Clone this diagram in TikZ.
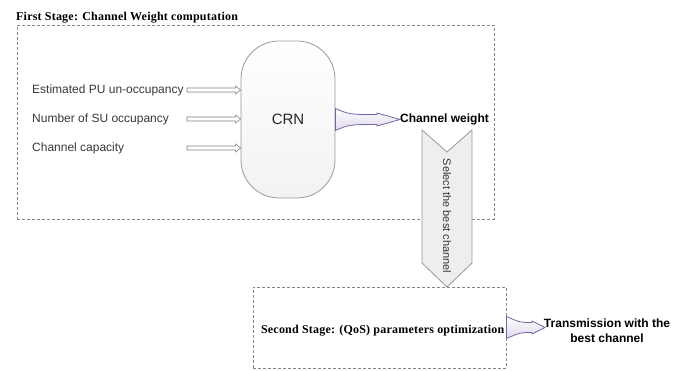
\documentclass[tikz,border=0pt]{standalone}
\usepackage{fontspec}
\setmainfont{Liberation Sans}
\newfontfamily\serifb[LetterSpace=1.8]{Liberation Serif}
\usetikzlibrary{calc}
\definecolor{dashgray}{RGB}{135,135,135}
\definecolor{txt}{RGB}{55,55,55}
\definecolor{purp}{RGB}{120,100,165}
\definecolor{lav}{RGB}{222,216,236}
\definecolor{chev}{RGB}{238,238,238}
\newcommand\fatarrow[3]{%
  \path[fatarr] let \p1=(#1), \p2=(#2), \p3=($(#2)+(-#3,0)$) in
   (\x1,\y1+11pt) .. controls (\x1+14pt,\y1+5pt) .. (\x3,\y1+5pt) -- (\x3,\y1+6.5pt) -- (\x2,\y1)
   -- (\x3,\y1-6.5pt) -- (\x3,\y1-5pt) .. controls (\x1+14pt,\y1-5pt) .. (\x1,\y1-11pt) -- cycle;}
\newcommand\hollowarrow[2]{%
  \path[thinarr] let \p1=(#1), \p2=(#2) in
   (\x1,\y1+2pt) -- (\x2-5pt,\y1+2pt) -- (\x2-5pt,\y1+4pt) -- (\x2,\y1)
   -- (\x2-5pt,\y1-4pt) -- (\x2-5pt,\y1-2pt) -- (\x1,\y1-2pt) -- cycle;}
\begin{document}
\begin{tikzpicture}[x=1pt,y=-1pt,
  stagebox/.style={draw=dashgray, dash pattern=on 3pt off 2pt, line width=0.8pt, inner sep=0pt},
  stagetitle/.style={font=\serifb\bfseries\fontsize{12}{14}\selectfont, inner sep=0pt},
  lbl/.style={font=\fontsize{12}{14}\selectfont, text=txt, inner sep=0pt, anchor=west},
  boldlbl/.style={font=\bfseries\fontsize{12}{15}\selectfont, inner sep=0pt},
  thinarr/.style={draw=gray, fill=white, line width=0.6pt},
  fatarr/.style={draw=purp, top color=white, bottom color=lav, line width=0.8pt},
  crnbox/.style={draw=gray!80, top color=white, bottom color=gray!10, line width=0.8pt,
     rounded corners=38pt, minimum width=94pt, minimum height=157pt,
     font=\fontsize{15}{18}\selectfont, text=black!85},
  chevstyle/.style={draw=gray!80, fill=chev, line width=0.8pt}]
\useasboundingbox (0,0) rectangle (682,370);
% stage boxes
\node[stagebox, minimum width=477pt, minimum height=194pt] (s1) at (255.5,122) {};
\node[stagebox, minimum width=253pt, minimum height=81pt] (s2) at (379.5,327.5) {};
\node[stagetitle, anchor=base west] (t1) at (16,20) {First Stage: Channel Weight computation};
% CRN
\node[crnbox] (crn) at (288,119.5) {CRN};
% inputs
\node[lbl] (l1) at (32,90) {Estimated PU un-occupancy};
\node[lbl] (l2) at (32,119) {Number of SU occupancy};
\node[lbl] (l3) at (32,148) {Channel capacity};
\coordinate (a1) at (187,90);
\coordinate (a2) at (187,119);
\coordinate (a3) at (187,148);
\hollowarrow{a1}{crn.west}
\hollowarrow{a2}{crn.west}
\hollowarrow{a3}{crn.west}
% channel weight
\node[boldlbl, anchor=west] (cw) at (400,119) {Channel weight};
\fatarrow{crn.east}{cw.west}{23}
% chevron
\coordinate (c1) at (422,130);
\coordinate (c2) at (447,152);
\coordinate (c3) at (472,130);
\coordinate (c4) at (472,263);
\coordinate (c5) at (447,287);
\coordinate (c6) at (422,263);
\draw[chevstyle] (c1) -- (c2) -- (c3) -- (c4) -- (c5) -- (c6) -- cycle;
\node[font=\fontsize{11}{13}\selectfont, text=txt, rotate=-90, inner sep=0pt] (sel) at (447,216) {Select the best channel};
% second stage
\node[stagetitle, anchor=east] (t2) at (504.5,331) {Second Stage: (QoS) parameters optimization};
\node[boldlbl, align=center] (tx) at (607,330.5) {Transmission with the\\best channel};
\coordinate (tip2) at (545,329);
\fatarrow{s2.east}{tip2}{13}
\end{tikzpicture}
\end{document}
